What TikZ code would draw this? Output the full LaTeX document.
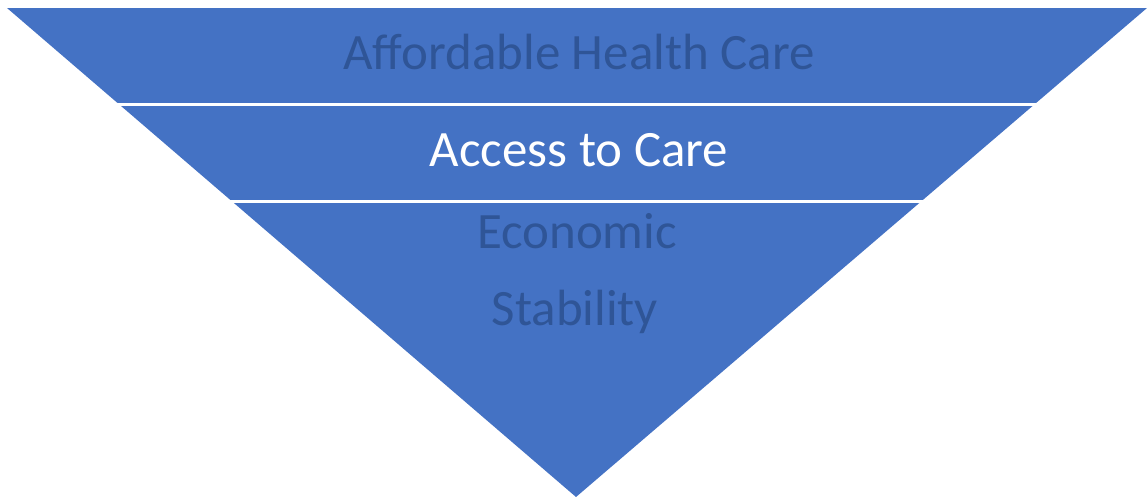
\documentclass[tikz,border=0pt]{standalone}
\usepackage{fontspec}
\setmainfont{Carlito}
\usepackage{tikz}
\usepackage{xcolor}
\definecolor{funnelblue}{RGB}{68,114,196}
\definecolor{textdeep}{RGB}{47,85,151}

\begin{document}
\begin{tikzpicture}[x=0.02cm,y=-0.02cm,
  level/.style={font=\fontsize{29}{34}\selectfont,anchor=base,inner sep=0pt}]
\useasboundingbox (0,0) rectangle (1147,497);
% inverted triangle
\fill[funnelblue] (7,8) -- (1147,8) -- (576,497) -- cycle;
% gaps between the levels
\draw[white,line width=1.5pt] (0,104.5) -- (1147,104.5);
\draw[white,line width=1.5pt] (0,201.5) -- (1147,201.5);

% level labels
\node[level,text=textdeep] (affordable) at (579,70) {Affordable Health Care};
\node[level,text=white] (access) at (579,166) {Access to Care};
\node[level,text=textdeep] (economic) at (577,248) {Economic};
\node[level,text=textdeep] (stability) at (575,325) {Stability};
\end{tikzpicture}
\end{document}
